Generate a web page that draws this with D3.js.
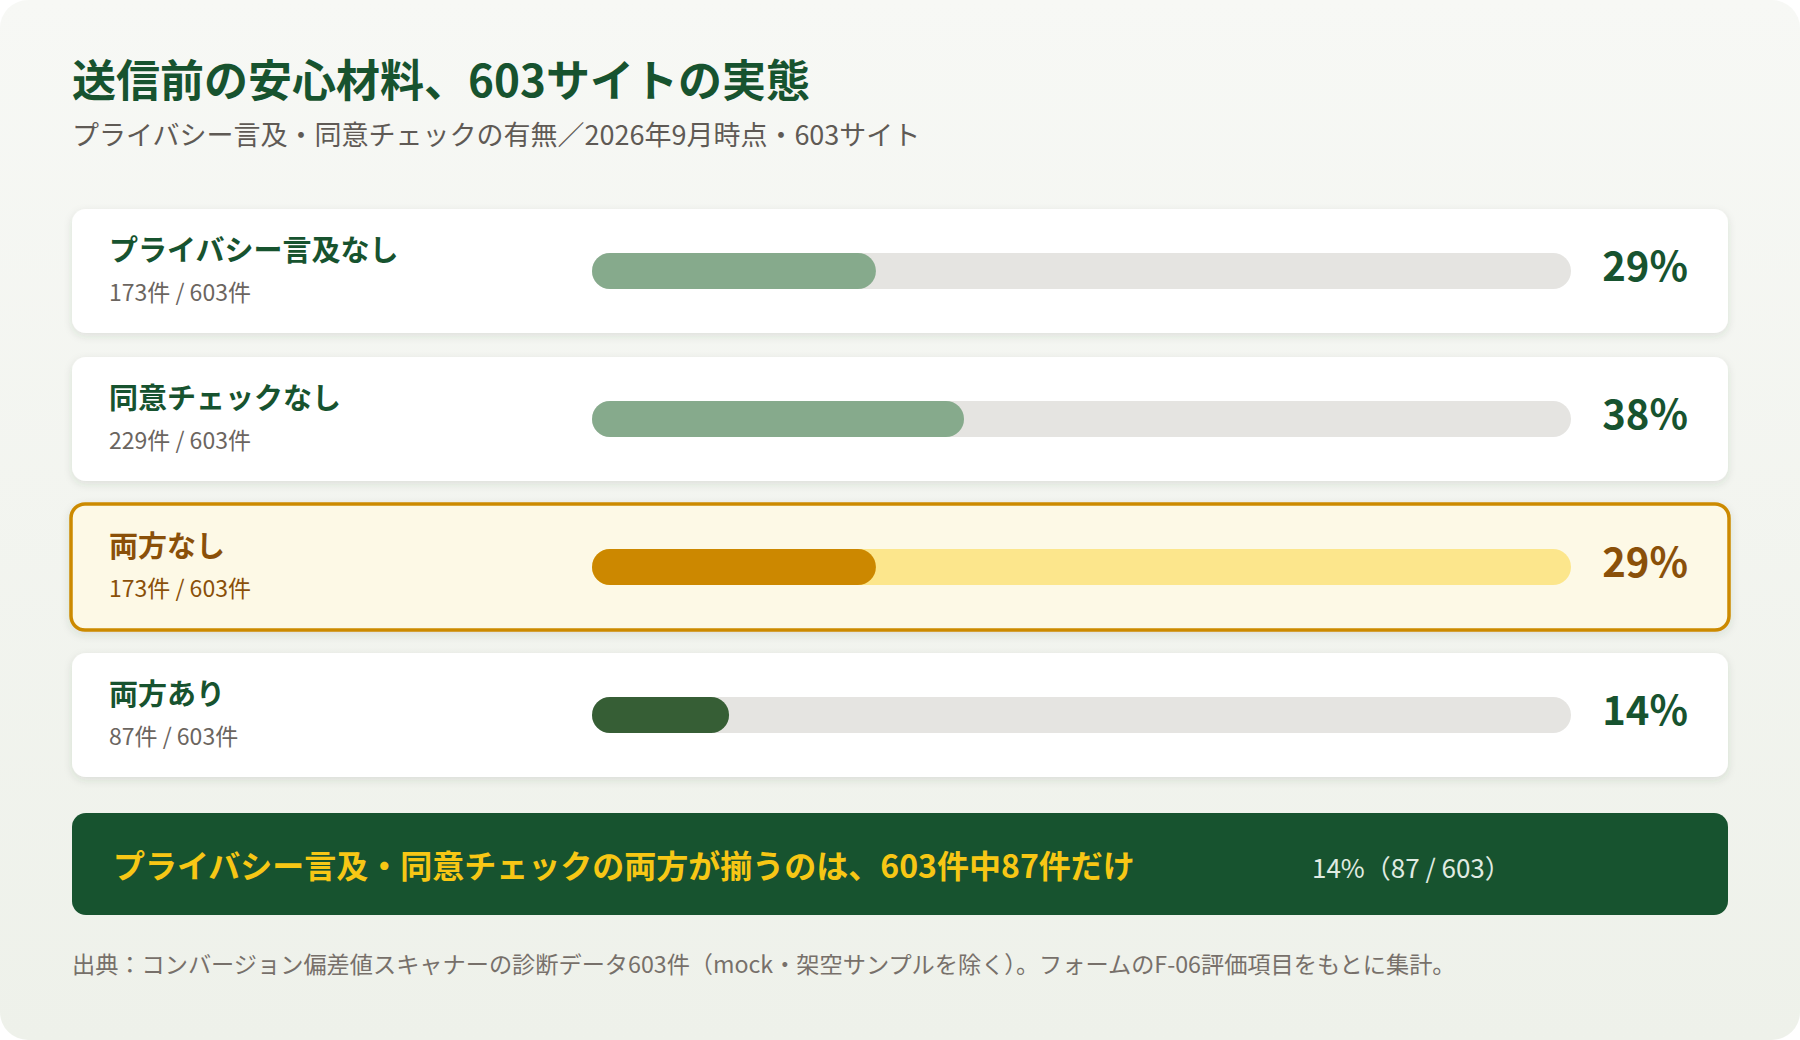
<!DOCTYPE html>
<html><head><meta charset="utf-8">
<script src="https://cdn.jsdelivr.net/npm/d3@7"></script>
<style>
html,body{margin:0;padding:0;background:#ffffff;}
svg{display:block;font-family:"Noto Sans CJK JP","Noto Sans",sans-serif;}
</style></head>
<body>
<svg id="chart" width="1800" height="1040"></svg>
<script>
const title = "送信前の安心材料、603サイトの実態";
const subtitle = "プライバシー言及・同意チェックの有無／2026年9月時点・603サイト";
const categories = ["プライバシー言及なし", "同意チェックなし", "両方なし", "両方あり"];
const counts = [173, 229, 173, 87];
const total = 603;
const percents = [29, 38, 29, 14];
const highlight = [false, false, true, false];
const summaryText = "プライバシー言及・同意チェックの両方が揃うのは、603件中87件だけ";
const summaryNote = "14%（87 / 603）";
const footnote = "出典：コンバージョン偏差値スキャナーの診断データ603件（mock・架空サンプルを除く）。フォームのF-06評価項目をもとに集計。";

const W = 1800, H = 1040;
const svg = d3.select("#chart");
const defs = svg.append("defs");
const bg = defs.append("linearGradient").attr("id","bg").attr("x1",0).attr("y1",0).attr("x2",0).attr("y2",1);
bg.append("stop").attr("offset","0%").attr("stop-color","#f7f8f5");
bg.append("stop").attr("offset","100%").attr("stop-color","#eef1ea");
const sh = defs.append("filter").attr("id","shadow").attr("x","-5%").attr("y","-20%").attr("width","110%").attr("height","150%");
sh.append("feDropShadow").attr("dx",0).attr("dy",3).attr("stdDeviation",4).attr("flood-color","#36502f").attr("flood-opacity",0.12);

svg.append("rect").attr("x",0).attr("y",0).attr("width",W).attr("height",H).attr("rx",28).attr("fill","url(#bg)");

svg.append("text").attr("x",72).attr("y",78).attr("dominant-baseline","central")
  .attr("font-size",44).attr("font-weight",700).attr("fill","#17532f").text(title);
svg.append("text").attr("x",72).attr("y",133).attr("dominant-baseline","central")
  .attr("font-size",27).attr("fill","#5f5a55").text(subtitle);

const cardX = 72, cardW = 1656;
const step = 148, gap = 24;
const y = d3.scaleBand().domain(categories)
  .range([209 - gap/2, 209 - gap/2 + categories.length*step])
  .paddingInner(gap/step).paddingOuter(gap/2/step);
const trackX = 592, trackW = 979, barH = 36;
const x = d3.scaleLinear().domain([0, 100]).range([0, trackW]);

const rows = svg.selectAll("g.row").data(categories.map((c,i)=>({c, n:counts[i], p:percents[i], hl:highlight[i], i})))
  .join("g").attr("class","row").attr("transform", d => `translate(${cardX},${y(d.c)})`);
const bh = y.bandwidth();

rows.append("rect").attr("x", d=>d.hl?-1:0).attr("y", d=>d.hl?-1:0)
  .attr("width", d=>d.hl?cardW+2:cardW).attr("height", d=>d.hl?bh+2:bh)
  .attr("rx",14).attr("fill", d=>d.hl?"#fdf9e6":"#ffffff")
  .attr("stroke", d=>d.hl?"#cc8a00":"none").attr("stroke-width",3.5)
  .attr("filter","url(#shadow)");

rows.append("text").attr("x",37).attr("y",39).attr("dominant-baseline","central")
  .attr("font-size",29).attr("font-weight",700).attr("fill", d=>d.hl?"#8a5009":"#17532f").text(d=>d.c);
rows.append("text").attr("x",37).attr("y",82).attr("dominant-baseline","central")
  .attr("font-size",23).attr("fill", d=>d.hl?"#8a5009":"#6b6560").text(d=>`${d.n}件 / ${total}件`);

rows.append("rect").attr("x",trackX-cardX).attr("y",bh/2-barH/2).attr("width",x(100)).attr("height",barH)
  .attr("rx",barH/2).attr("fill", d=>d.hl?"#fce68c":"#e5e4e1");
const fillColor = d => d.hl ? "#cc8800" : (d.i===3 ? "#365e35" : "#86aa8c");
rows.append("rect").attr("x",trackX-cardX).attr("y",bh/2-barH/2).attr("width",d=>x(d.p)).attr("height",barH)
  .attr("rx",barH/2).attr("fill", fillColor);

rows.append("text").attr("x",cardW-40).attr("y",bh/2-7).attr("dominant-baseline","central").attr("text-anchor","end")
  .attr("font-size",40).attr("font-weight",700).attr("fill", d=>d.hl?"#8a5009":"#17532f").text(d=>d.p + "%");

// summary
svg.append("rect").attr("x",72).attr("y",813).attr("width",1656).attr("height",102).attr("rx",14).attr("fill","#17532f");
svg.append("text").attr("x",113).attr("y",864).attr("dominant-baseline","central")
  .attr("font-size",32).attr("font-weight",700).attr("fill","#f7c715").text(summaryText);
svg.append("text").attr("x",1312).attr("y",866).attr("dominant-baseline","central")
  .attr("font-size",26).attr("fill","#e0ebe2").text(summaryNote);

svg.append("text").attr("x",72).attr("y",963).attr("dominant-baseline","central")
  .attr("font-size",23.2).attr("fill","#77706a").text(footnote);
</script>
</body></html>
